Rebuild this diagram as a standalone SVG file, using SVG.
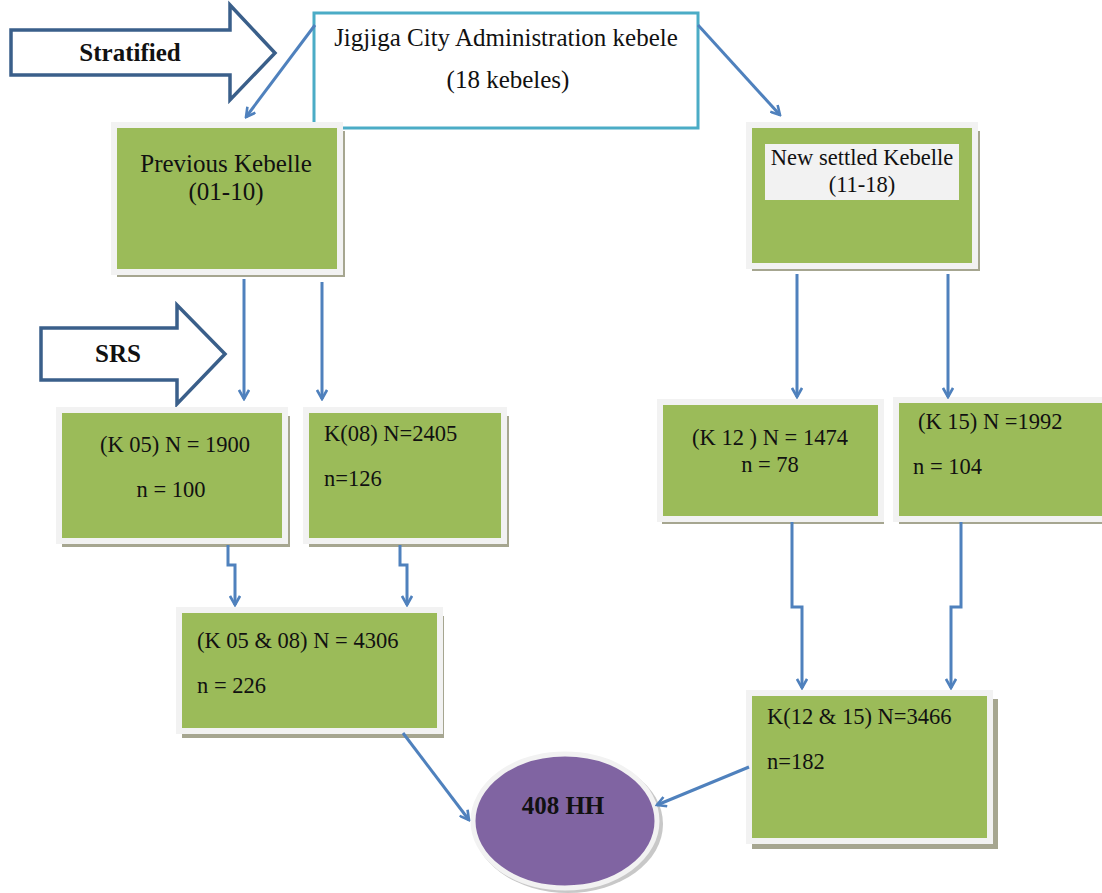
<svg xmlns="http://www.w3.org/2000/svg" width="1102" height="893" viewBox="0 0 1102 893">
<style>
.t{font-family:'Liberation Serif','DejaVu Serif',serif;font-size:22.5px;fill:#111}
.l{font-family:'Liberation Serif','DejaVu Serif',serif;font-size:25px;fill:#111}
.b{font-family:'Liberation Serif','DejaVu Serif',serif;font-size:25px;font-weight:bold;fill:#111}
.box{fill:#9bbb59;stroke:#f2f2f2;stroke-width:6}
.sh{fill:#a6a690}
.con{fill:none;stroke:#4f81bd;stroke-width:3}
.blk{fill:#fff;stroke:#3a5f8a;stroke-width:3.5;stroke-linejoin:miter}
</style>
<defs>
<marker id="ah" viewBox="0 0 12 12" refX="10" refY="6" markerWidth="12" markerHeight="12" markerUnits="userSpaceOnUse" orient="auto">
<path d="M1,1 L10,6 L1,11" fill="none" stroke="#4f81bd" stroke-width="2.6"/>
</marker>
</defs>
<rect width="1102" height="893" fill="#fff"/>

<g id="stratified">
<path class="blk" d="M11,30 H230 V5 L275,53 L230,100 V75 H11 Z"/>
<text class="b" x="130" y="61" text-anchor="middle">Stratified</text>
</g>
<g id="srs">
<path class="blk" d="M41,328 H177 V305 L225,354 L177,404 V380 H41 Z"/>
<text class="b" x="118" y="362" text-anchor="middle">SRS</text>
</g>

<g id="top">
<rect x="314" y="13" width="384" height="115" fill="#fff" stroke="#4bacc6" stroke-width="3"/>
<text class="l" x="506" y="46" text-anchor="middle">Jigjiga City Administration kebele</text>
<text class="l" x="508" y="88" text-anchor="middle">(18 kebeles)</text>
</g>

<g id="prev">
<rect class="sh" x="117" y="131" width="228" height="146"/>
<rect class="box" x="114" y="125" width="226" height="147"/>
<text class="l" x="226" y="172" text-anchor="middle">Previous Kebelle</text>
<text class="l" x="226" y="200" text-anchor="middle">(01-10)</text>
</g>

<g id="newsettled">
<rect class="sh" x="752" y="131" width="228" height="140"/>
<rect class="box" x="749" y="125" width="226" height="141"/>
<rect x="765" y="144" width="194" height="56" fill="#f2f2f2"/>
<text class="t" x="862" y="165" text-anchor="middle">New settled Kebelle</text>
<text class="t" x="862" y="192" text-anchor="middle">(11-18)</text>
</g>

<g id="k05">
<rect class="sh" x="62" y="416" width="228" height="131"/>
<rect class="box" x="59" y="410" width="226" height="131"/>
<text class="t" x="175" y="452" text-anchor="middle">(K 05) N = 1900</text>
<text class="t" x="171" y="497" text-anchor="middle">n = 100</text>
</g>

<g id="k08">
<rect class="sh" x="309" y="416" width="200" height="131"/>
<rect class="box" x="306" y="410" width="198" height="131"/>
<text class="t" x="324" y="441">K(08) N=2405</text>
<text class="t" x="324" y="486">n=126</text>
</g>

<g id="k12">
<rect class="sh" x="662" y="408" width="222" height="116"/>
<rect class="box" x="660" y="402" width="221" height="117"/>
<text class="t" x="770" y="445" text-anchor="middle">(K 12 ) N = 1474</text>
<text class="t" x="770" y="472" text-anchor="middle">n = 78</text>
</g>

<g id="k15">
<rect class="sh" x="899" y="406" width="210" height="118"/>
<rect class="box" x="896" y="400" width="210" height="119"/>
<text class="t" x="918" y="429">(K 15) N =1992</text>
<text class="t" x="913" y="474">n = 104</text>
</g>

<g id="k0508">
<rect class="sh" x="182" y="616" width="262" height="122"/>
<rect class="box" x="179" y="610" width="261" height="121"/>
<text class="t" x="197" y="648">(K 05 &amp; 08) N = 4306</text>
<text class="t" x="197" y="693">n = 226</text>
</g>

<g id="k1215">
<rect class="sh" x="752" y="699" width="246" height="150"/>
<rect class="box" x="749" y="693" width="241" height="148"/>
<text class="t" x="767" y="724">K(12 &amp; 15) N=3466</text>
<text class="t" x="767" y="769">n=182</text>
</g>

<g id="hh">
<ellipse cx="568" cy="824" rx="95" ry="69" fill="#c8c8c8"/>
<ellipse cx="565" cy="821" rx="92" ry="67" fill="#8064a2" stroke="#f2f2f2" stroke-width="5"/>
<text class="b" x="563" y="814" text-anchor="middle">408 HH</text>
</g>

<g id="connectors">
<line class="con" x1="315" y1="25" x2="246" y2="117" marker-end="url(#ah)"/>
<line class="con" x1="698" y1="25" x2="780" y2="115" marker-end="url(#ah)"/>
<line class="con" x1="244" y1="279" x2="244" y2="399" marker-end="url(#ah)"/>
<line class="con" x1="322" y1="282" x2="322" y2="399" marker-end="url(#ah)"/>
<line class="con" x1="797" y1="274" x2="797" y2="397" marker-end="url(#ah)"/>
<line class="con" x1="948" y1="274" x2="948" y2="397" marker-end="url(#ah)"/>
<path class="con" d="M228,545 V565 H235 V605" marker-end="url(#ah)"/>
<path class="con" d="M400,545 V565 H407 V605" marker-end="url(#ah)"/>
<path class="con" d="M792,522 V607 H802 V688" marker-end="url(#ah)"/>
<path class="con" d="M961,522 V607 H951 V688" marker-end="url(#ah)"/>
<line class="con" x1="403" y1="733" x2="469" y2="820" marker-end="url(#ah)"/>
<line class="con" x1="749" y1="767" x2="657" y2="805" marker-end="url(#ah)"/>
</g>
</svg>
